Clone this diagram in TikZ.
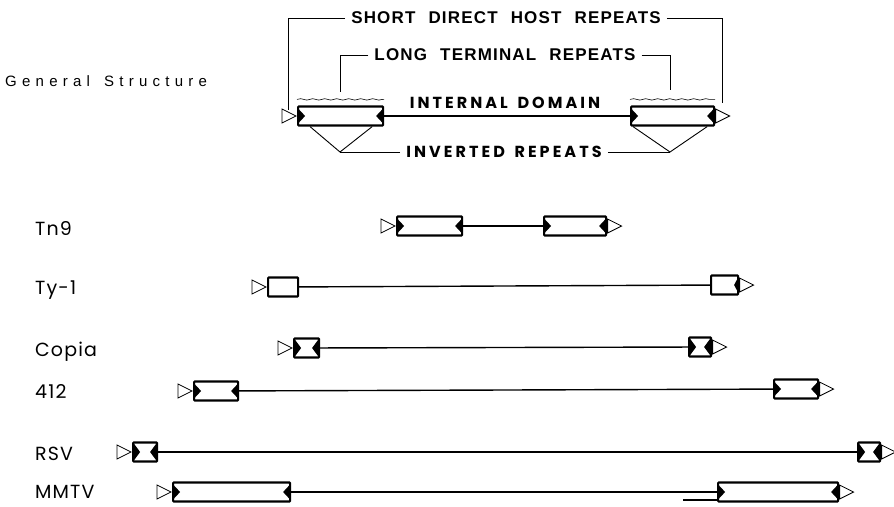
\documentclass[tikz,border=0pt]{standalone}
\usepackage{fontspec}
\setmainfont{Liberation Sans}
\newfontfamily\rowfont[LetterSpace=6]{Poppins}
\newfontfamily\capsfont[LetterSpace=7, WordSpace=2.2]{Liberation Sans}
\newfontfamily\widefont[LetterSpace=19, WordSpace=1.5]{Poppins}
\newfontfamily\genfont[LetterSpace=35, WordSpace=1.5]{Liberation Sans}
\usetikzlibrary{positioning, shapes.geometric, decorations.pathmorphing}

\begin{document}
\begin{tikzpicture}[
    x=1pt, y=-1pt,
    box/.style={rectangle, draw, line width=2.2pt, minimum height=19pt, inner sep=0pt, anchor=west, rounded corners=0.8pt},
    ltr/.style={box, path picture={
        \fill[sharp corners] ([yshift=-2pt]path picture bounding box.north west) -- ([xshift=7pt]path picture bounding box.west) -- ([yshift=2pt]path picture bounding box.south west) -- cycle;
        \fill[sharp corners] ([yshift=-2pt]path picture bounding box.north east) -- ([xshift=-7pt]path picture bounding box.east) -- ([yshift=2pt]path picture bounding box.south east) -- cycle;}},
    ltrx/.style={box, path picture={
        \fill[sharp corners] (path picture bounding box.north west) -- ([xshift=7pt]path picture bounding box.west) -- (path picture bounding box.south west) -- cycle;
        \fill[sharp corners] (path picture bounding box.north east) -- ([xshift=-7pt]path picture bounding box.east) -- (path picture bounding box.south east) -- cycle;}},
    tyend/.style={box, path picture={
        \fill[sharp corners] ([yshift=-2pt]path picture bounding box.north east) -- ([xshift=-4pt]path picture bounding box.east) -- ([yshift=2pt]path picture bounding box.south east) -- cycle;}},
    tri/.style={isosceles triangle, isosceles triangle stretches, draw, line width=0.8pt, inner sep=0pt, minimum height=14pt, minimum width=14pt},
    genome/.style={line width=1.4pt},
    bracket/.style={line width=0.9pt},
    brace/.style={decorate, decoration={snake, amplitude=0.7pt, segment length=12pt}, line width=0.6pt},
    rowlabel/.style={anchor=west, inner sep=0pt, font=\rowfont\fontsize{19}{22}\selectfont},
    headlabel/.style={inner sep=6pt, font=\capsfont\bfseries\fontsize{17}{20}\selectfont},
    widelabel/.style={inner sep=6pt, font=\widefont\bfseries\fontsize{16}{19}\selectfont}
  ]
  \useasboundingbox (0,0) rectangle (894,506);

  % General structure
  \node[anchor=west, inner sep=0pt, font=\genfont\fontsize{15}{18}\selectfont] (gen) at (5,81) {General Structure};
  \node[ltr, minimum width=85pt] (gsA) at (297,116) {};
  \node[ltr, minimum width=83pt] (gsB) at (630,116) {};
  \node[tri, left=0pt of gsA] (gsAin) {};
  \node[tri, right=0pt of gsB] (gsBout) {};
  \draw[genome] (gsA) -- (gsB);
  \draw[brace] ([yshift=6pt]gsA.north west) -- ([yshift=6pt]gsA.north east);
  \draw[brace] ([yshift=6pt]gsB.north west) -- ([yshift=6pt]gsB.north east);

  % Labels of the general structure
  \node[widelabel] (intdom) at (505,103) {INTERNAL DOMAIN};
  \node[headlabel] (sdhr) at (506,18) {SHORT DIRECT HOST REPEATS};
  \node[headlabel] (lterm) at (505,55) {LONG TERMINAL REPEATS};
  \node[widelabel] (invrep) at (504,152) {INVERTED REPEATS};
  \coordinate (sdhrL) at (288,110);
  \coordinate (sdhrR) at (722,103);
  \coordinate (ltermL) at (340,92);
  \coordinate (ltermR) at (670,90);
  \coordinate (invL) at (340,152);
  \coordinate (invR) at (670,152);
  \draw[bracket] (sdhr.west) -| (sdhrL);
  \draw[bracket] (sdhr.east) -| (sdhrR);
  \draw[bracket] (lterm.west) -| (ltermL);
  \draw[bracket] (lterm.east) -| (ltermR);
  \draw[bracket] (invrep.west) -- (invL);
  \draw[bracket] (invrep.east) -- (invR);
  \draw[bracket] ([xshift=13pt]gsA.south west) -- (invL) -- ([xshift=-12pt]gsA.south east);
  \draw[bracket] ([xshift=3pt]gsB.south west) -- (invR) -- ([xshift=-8pt]gsB.south east);

  % Tn9
  \node[rowlabel] (tn) at (35,229) {Tn9};
  \node[ltr, minimum width=65pt] (tnA) at (396,226) {};
  \node[ltr, minimum width=62pt] (tnB) at (543,226) {};
  \node[tri, left=0pt of tnA] (tnAin) {};
  \node[tri, right=0pt of tnB] (tnBout) {};
  \draw[genome] (tnA) -- (tnB);

  % Ty-1
  \node[rowlabel] (ty) at (35,290) {Ty-1};
  \node[box, minimum width=30pt] (tyA) at (267,287) {};
  \node[tyend, minimum width=27pt] (tyB) at (710,285) {};
  \node[tri, left=0pt of tyA] (tyAin) {};
  \node[tri, right=0pt of tyB] (tyBout) {};
  \draw[genome] (tyA) -- (tyB);

  % Copia
  \node[rowlabel] (co) at (35,352) {Copia};
  \node[ltrx, minimum width=25pt] (coA) at (293,348) {};
  \node[ltrx, minimum width=22pt] (coB) at (688,347) {};
  \node[tri, left=0pt of coA] (coAin) {};
  \node[tri, right=0pt of coB] (coBout) {};
  \draw[genome] (coA) -- (coB);

  % 412
  \node[rowlabel] (ff) at (35,392) {412};
  \node[ltr, minimum width=44pt] (ffA) at (193,391) {};
  \node[ltr, minimum width=44pt] (ffB) at (773,389) {};
  \node[tri, left=0pt of ffA] (ffAin) {};
  \node[tri, right=0pt of ffB] (ffBout) {};
  \draw[genome] (ffA) -- (ffB);

  % RSV
  \node[rowlabel] (rs) at (35,454) {RSV};
  \node[ltrx, minimum width=24pt] (rsA) at (132,452) {};
  \node[ltrx, minimum width=22pt] (rsB) at (857,452) {};
  \node[tri, left=0pt of rsA] (rsAin) {};
  \node[tri, right=0pt of rsB] (rsBout) {};
  \draw[genome] (rsA) -- (rsB);

  % MMTV
  \node[rowlabel] (mm) at (35,492) {MMTV};
  \node[ltr, minimum width=117pt] (mmA) at (172,492) {};
  \node[ltr, minimum width=120pt] (mmB) at (717,492) {};
  \node[tri, left=0pt of mmA] (mmAin) {};
  \node[tri, right=0pt of mmB] (mmBout) {};
  \draw[genome] (mmA) -- (mmB);
  \coordinate (mmTail) at (683,500);
  \draw[genome] (mmTail) -- (mmB.west |- mmTail);
\end{tikzpicture}
\end{document}
